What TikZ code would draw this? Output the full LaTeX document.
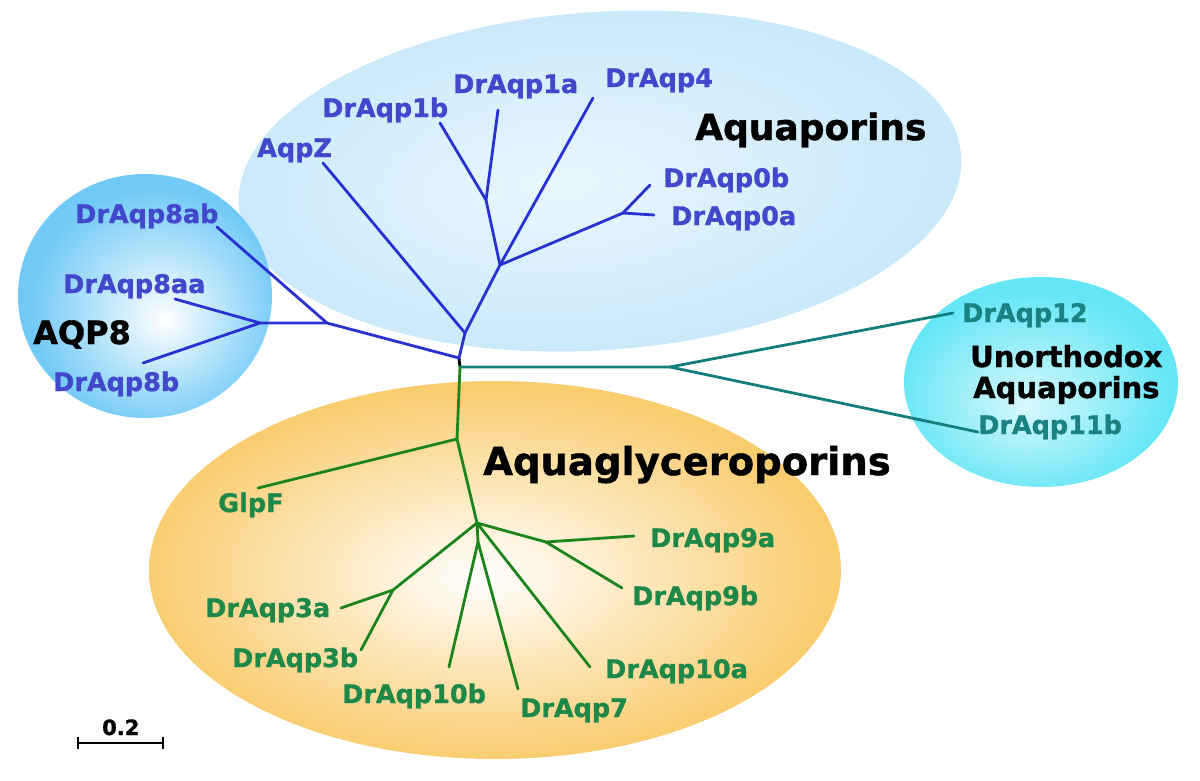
\documentclass[tikz,border=0pt]{standalone}
\usepackage{fontspec}
\setmainfont{DejaVu Sans}[BoldFeatures={FakeBold=1.2}]
\definecolor{lineblue}{RGB}{40,50,210}
\definecolor{textblue}{RGB}{66,72,204}
\definecolor{linegreen}{RGB}{28,132,28}
\definecolor{textgreen}{RGB}{30,136,72}
\definecolor{lineteal}{RGB}{20,125,125}
\definecolor{textteal}{RGB}{26,130,130}
\definecolor{aqpedge}{RGB}{202,233,250}
\definecolor{aqpmid}{RGB}{234,247,253}
\definecolor{eightedge}{RGB}{112,201,246}
\definecolor{cyanedge}{RGB}{100,230,246}
\definecolor{cyanmid}{RGB}{215,248,252}
\definecolor{orangeedge}{RGB}{249,204,110}
\pgfdeclareradialshading{aqpshade}{\pgfpoint{-3bp}{0bp}}{color(0bp)=(aqpmid); color(25bp)=(aqpedge); color(50bp)=(aqpedge)}
\pgfdeclareradialshading{eightshade}{\pgfpoint{4bp}{-5bp}}{color(0bp)=(white); color(25bp)=(eightedge); color(50bp)=(eightedge)}
\pgfdeclareradialshading{cyanshade}{\pgfpoint{-3bp}{-6bp}}{color(0bp)=(cyanmid); color(25bp)=(cyanedge); color(50bp)=(cyanedge)}
\pgfdeclareradialshading{orangeshade}{\pgfpoint{-1bp}{-1bp}}{color(0bp)=(white); color(25bp)=(orangeedge); color(50bp)=(orangeedge)}
\begin{document}
\begin{tikzpicture}[x=1pt,y=-1pt,
  blu/.style={draw=lineblue,line width=2.8pt,line cap=round,line join=round},
  grn/.style={draw=linegreen,line width=2.8pt,line cap=round,line join=round},
  tea/.style={draw=lineteal,line width=2.8pt,line cap=round,line join=round},
  lab/.style={inner sep=0pt,anchor=base west,font=\fontsize{25.5}{30}\selectfont\bfseries},
  bluelab/.style={lab,text=textblue},
  greenlab/.style={lab,text=textgreen},
  teallab/.style={lab,text=textteal},
  grouptitle/.style={inner sep=0pt,anchor=base west,text=black},
]
\useasboundingbox (0,0) rectangle (1200,780);
\fill[white] (0,0) rectangle (1200,780);
% group backgrounds
\begin{scope}[transform canvas={rotate around={4:(600,181)}}]
\shade[shading=aqpshade] (600,181) ellipse [x radius=362, y radius=169];
\end{scope}
\shade[shading=orangeshade] (495,570) ellipse [x radius=346, y radius=189];
\shade[shading=eightshade] (145,296) ellipse [x radius=127, y radius=122];
\shade[shading=cyanshade] (1041,382) ellipse [x radius=137, y radius=105];

% tree coordinates
\coordinate (r0) at (460,367);
\coordinate (b0) at (459,358);
\coordinate (p8) at (327,323);
\coordinate (p8s) at (260,323);
\coordinate (e8ab) at (217,227);
\coordinate (e8aa) at (175,299);
\coordinate (e8b) at (143,363);
\coordinate (a1) at (465,333);
\coordinate (eZ) at (323,163);
\coordinate (a2) at (500,265);
\coordinate (e4) at (593,98);
\coordinate (a3) at (486,200);
\coordinate (e1b) at (440,123);
\coordinate (e1a) at (498,110);
\coordinate (a4) at (623,213);
\coordinate (e0b) at (650,185);
\coordinate (e0a) at (654,215);
\coordinate (t1) at (670,367);
\coordinate (e12) at (953,313);
\coordinate (e11) at (978,432);
\coordinate (g1) at (457,439);
\coordinate (eG) at (258,488);
\coordinate (g2) at (477,523);
\coordinate (g3) at (393,590);
\coordinate (e3a) at (341,608);
\coordinate (e3b) at (361,650);
\coordinate (g4) at (546,542);
\coordinate (e9a) at (634,536);
\coordinate (e9b) at (622,588);
\coordinate (g5) at (478,542);
\coordinate (e10b) at (449,667);
\coordinate (e7) at (518,689);
\coordinate (e10a) at (590,667);

% branches
\draw[line width=2.8pt,black] (b0) -- (r0);
\draw[blu] (b0) -- (p8) -- (p8s);
\draw[blu] (p8) -- (e8ab);
\draw[blu] (p8s) -- (e8aa);
\draw[blu] (p8s) -- (e8b);
\draw[blu] (b0) -- (a1) -- (a2) -- (a3) -- (e1b);
\draw[blu] (a1) -- (eZ);
\draw[blu] (a3) -- (e1a);
\draw[blu] (a2) -- (e4);
\draw[blu] (a2) -- (a4) -- (e0b);
\draw[blu] (a4) -- (e0a);
\draw[tea] (r0) -- (t1) -- (e12);
\draw[tea] (t1) -- (e11);
\draw[grn] (r0) -- (g1) -- (g2) -- (g3) -- (e3a);
\draw[grn] (g1) -- (eG);
\draw[grn] (g3) -- (e3b);
\draw[grn] (g2) -- (g4) -- (e9a);
\draw[grn] (g4) -- (e9b);
\draw[grn] (g2) -- (g5) -- (e10b);
\draw[grn] (g5) -- (e7);
\draw[grn] (g2) -- (e10a);

% leaf labels
\node[bluelab] (l1a) at (453,93) {DrAqp1a};
\node[bluelab] (l1b) at (322,117) {DrAqp1b};
\node[bluelab] (lZ) at (257,157) {AqpZ};
\node[bluelab] (l4) at (605,87) {DrAqp4};
\node[bluelab] (l0b) at (663,187) {DrAqp0b};
\node[bluelab] (l0a) at (671,225) {DrAqp0a};
\node[bluelab] (l8ab) at (75,223) {DrAqp8ab};
\node[bluelab] (l8aa) at (63,293) {DrAqp8aa};
\node[bluelab] (l8b) at (53,391) {DrAqp8b};
\node[teallab] (l12) at (962,322) {DrAqp12};
\node[teallab] (l11) at (978,434) {DrAqp11b};
\node[greenlab] (lG) at (218,512) {GlpF};
\node[greenlab] (l9a) at (650,547) {DrAqp9a};
\node[greenlab] (l9b) at (632,605) {DrAqp9b};
\node[greenlab] (l3a) at (205,617) {DrAqp3a};
\node[greenlab] (l3b) at (232,667) {DrAqp3b};
\node[greenlab] (l10a) at (605,678) {DrAqp10a};
\node[greenlab] (l10b) at (342,703) {DrAqp10b};
\node[greenlab] (l7) at (520,717) {DrAqp7};

% group titles
\node[grouptitle,font=\fontsize{36}{40}\selectfont\bfseries] (tA) at (695,140) {Aquaporins};
\node[grouptitle,font=\fontsize{32}{36}\selectfont\bfseries] (t8) at (33,344) {AQP8};
\node[grouptitle,font=\fontsize{29}{32}\selectfont\bfseries] (tU1) at (970,367) {Unorthodox};
\node[grouptitle,font=\fontsize{29}{32}\selectfont\bfseries] (tU2) at (973,398) {Aquaporins};
\node[grouptitle,font=\fontsize{38.5}{42}\selectfont\bfseries] (tG) at (483,475) {Aquaglyceroporins};

% scale bar
\coordinate (sL) at (78,743);
\coordinate (sR) at (163,743);
\draw[line width=2.2pt] (sL) -- (sR);
\draw[line width=2.2pt] ([yshift=6pt]sL) -- ([yshift=-6pt]sL);
\draw[line width=2.2pt] ([yshift=6pt]sR) -- ([yshift=-6pt]sR);
\node[grouptitle,font=\fontsize{21}{24}\selectfont\bfseries] (sc) at (102,735) {0.2};
\end{tikzpicture}
\end{document}
